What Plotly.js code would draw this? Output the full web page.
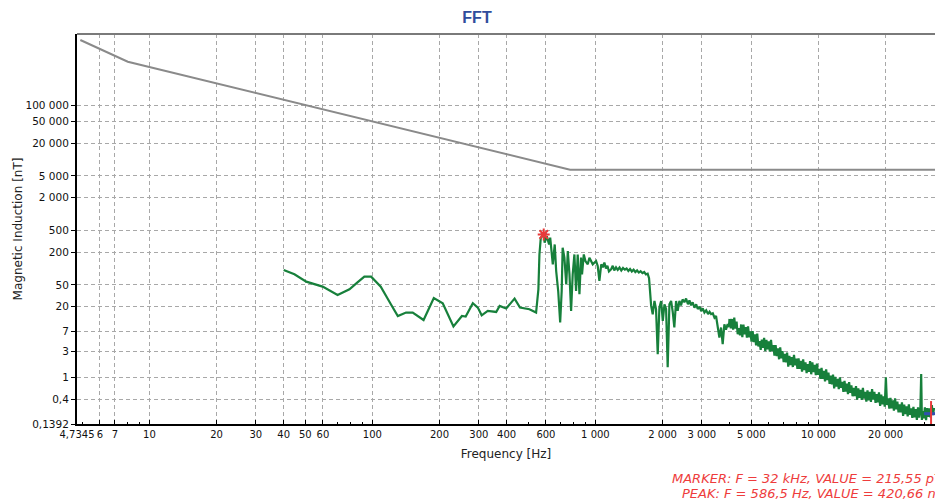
<!DOCTYPE html>
<html>
<head>
<meta charset="utf-8">
<script src="https://cdn.plot.ly/plotly-3.0.1.min.js"></script>
<style>html,body{margin:0;padding:0;background:#fff;}#chart{width:935px;height:500px;}</style>
</head>
<body>
<div id="chart"></div>
<script>
// ---- Data ----
const xTickVals = [4.7345, 6, 7, 10, 20, 30, 40, 50, 60, 100, 200, 300, 400, 600, 1000, 2000, 3000, 5000, 10000, 20000];
const xTickText = ['4,7345', '6', '7', '10', '20', '30', '40', '50', '60', '100', '200', '300', '400', '600', '1 000', '2 000', '3 000', '5 000', '10 000', '20 000'];
const yTickVals = [0.1392, 0.4, 1, 3, 7, 20, 50, 200, 500, 2000, 5000, 20000, 50000, 100000];
const yTickText = ['0,1392', '0,4', '1', '3', '7', '20', '50', '200', '500', '2 000', '5 000', '20 000', '50 000', '100 000'];

// limit curve (gray)
const limitFreq = [4.9, 8, 770, 33500];
const limitValue = [1570000, 625000, 6500, 6500];

// measured FFT spectrum (green)
const fftFreqLow = [40, 44.7, 50.5, 59.8, 69.8, 78.9, 85.7, 92, 98.7, 109, 121, 130, 141.5, 151.6, 169.6, 188.5, 206.7, 230.9, 252, 262, 282, 297, 309, 329, 359, 372, 398, 434, 459, 506, 542, 555, 561, 569];
const fftValueLow = [93.5, 78, 57.3, 46.4, 32.6, 41.4, 55.6, 70.8, 70.8, 46.4, 22, 13.4, 15.5, 15.5, 11.3, 28.7, 23, 8.6, 13.4, 13.1, 23, 19.1, 13.8, 16.6, 15.9, 20.5, 18.4, 28, 19.1, 17.8, 15.5, 41.4, 181, 367];

const fftFreqPeak = [586.5, 592, 605, 620, 627, 644, 657, 667, 681, 695, 706, 713, 726, 740, 752, 765, 778, 791, 805, 819, 833, 848, 862, 871, 887, 902, 924, 940, 973];
const fftValuePeak = [420.66, 297, 392, 276, 367, 119, 276, 89.6, 38.5, 10.2, 38.5, 240, 158, 51, 208, 78, 16.6, 78, 181, 38.5, 181, 33.6, 158, 78, 181, 137, 119, 158, 119];

const fftFreqMid = [1007, 1024, 1042, 1062, 1080, 1097, 1115, 1132, 1150, 1175, 1196, 1215, 1237, 1259, 1283, 1306, 1330, 1355, 1380, 1405, 1430, 1456, 1483, 1510, 1538, 1566, 1595, 1625, 1655, 1685, 1715, 1740, 1760, 1778,
  1807, 1840, 1870, 1903, 1936, 1971, 2005, 2040, 2075, 2109, 2147, 2185, 2222, 2259, 2300, 2339, 2380, 2420, 2460, 2506, 2550, 2600, 2640, 2685, 2730, 2780, 2830, 2876, 2930, 2980, 3030, 3083, 3140, 3200, 3250, 3303, 3360, 3420, 3475, 3533, 3597, 3660, 3722, 3787, 3850, 3918, 3960];
const fftValueMid = [137, 111, 59, 119, 105, 128, 100, 112, 88, 96, 112, 92, 105, 94, 104, 92, 102, 95, 100, 90, 98, 88, 95, 86, 92, 84, 89, 82, 86, 78, 80, 66, 40, 20.5,
  14.4, 25.3, 18, 2.67, 19.1, 25.3, 10.9, 22, 18, 1.54, 22, 25.3, 16, 8.24, 25.3, 16.6, 25.3, 21, 27, 24, 28, 22, 26, 21, 24, 19, 22, 18, 20, 16.5, 18.5, 15.5, 17, 14.5, 16, 14.5, 15, 12.5, 13.4, 8.8, 5.4, 8.24, 4.07, 9.46, 7.5, 9.5, 8.4];

const fftFreqHigh = [4000, 4048, 4096, 4145, 4194, 4244, 4295, 4346, 4398, 4451, 4504, 4558, 4612, 4667, 4722, 4779, 4836, 4894, 4952, 5011,
  5071, 5131, 5192, 5254, 5317, 5381, 5445, 5510, 5575, 5642, 5709, 5777, 5846, 5916, 5987, 6058, 6130, 6203, 6277, 6352,
  6428, 6505, 6582, 6661, 6740, 6821, 6902, 6985, 7068, 7152, 7237, 7324, 7411, 7500, 7589, 7680, 7771, 7864, 7958, 8053,
  8149, 8246, 8344, 8444, 8544, 8647, 8750, 8855, 8960, 9067, 9175, 9285, 9395, 9507, 9620, 9735, 9851, 9969, 10088, 10209,
  10330, 10454, 10578, 10705, 10832, 10962, 11092, 11225, 11358, 11494, 11630, 11769, 11909, 12052, 12195, 12341, 12488, 12638, 12788, 12941,
  13095, 13252, 13409, 13570, 13731, 13895, 14060, 14229, 14398, 14570, 14743, 14920, 15097, 15278, 15460, 15645, 15831, 16021, 16211, 16405,
  16600, 16799, 16998, 17202, 17406, 17615, 17824, 18038, 18252, 18471, 18690, 18914, 19138, 19368, 19598, 19833, 20068, 20309, 20550, 20796,
  21043, 21295, 21548, 21806, 22065, 22330, 22595, 22866, 23137, 23414, 23692, 23976, 24261, 24552, 24843, 25141, 25439, 25745, 26050, 26362,
  26675, 26995, 27315, 27643, 27971, 28306, 28642, 28900, 29114, 29329, 29681, 30033, 30393, 30754, 31123, 31492, 31870, 32248, 32635, 33022];
const fftValueHigh = [11.8, 7.95, 11.8, 7.5, 12.5, 7.85, 10.6, 6.2, 8.05, 5.9, 9.36, 5.5, 9.3, 6.15, 8.4, 5.36, 8.64, 5.44, 7.0, 4.53,
  7.06, 4.43, 6.14, 3.85, 6.34, 3.7, 4.64, 3.19, 4.95, 3.5, 5.33, 3.02, 4.9, 3.28, 4.56, 2.96, 4.86, 3.04, 3.92, 2.52,
  3.9, 2.46, 3.42, 2.15, 3.56, 2.24, 3.05, 1.91, 2.7, 1.89, 2.86, 1.58, 2.48, 1.68, 2.35, 1.55, 2.59, 1.67, 2.2, 1.43,
  2.24, 1.43, 2.0, 1.28, 2.14, 1.36, 1.88, 1.2, 1.75, 1.27, 1.98, 1.14, 1.88, 1.25, 1.7, 1.1, 1.78, 1.11, 1.44, 0.94,
  1.49, 0.94, 1.32, 0.84, 1.4, 0.89, 1.22, 0.76, 1.07, 0.746, 1.12, 0.63, 1.02, 0.68, 0.94, 0.61, 1.0, 0.64, 0.83, 0.54,
  0.86, 0.545, 0.77, 0.49, 0.82, 0.52, 0.71, 0.45, 0.64, 0.454, 0.69, 0.39, 0.63, 0.42, 0.59, 0.385, 0.64, 0.41, 0.54, 0.36,
  0.58, 0.377, 0.54, 0.354, 0.61, 0.39, 0.54, 0.34, 0.49, 0.346, 0.53, 0.3, 0.48, 0.32, 0.45, 0.29, 1.0, 0.31, 0.41, 0.266,
  0.42, 0.27, 0.38, 0.245, 0.41, 0.26, 0.36, 0.227, 0.32, 0.228, 0.347, 0.196, 0.316, 0.212, 0.294, 0.192, 0.32, 0.206, 0.27, 0.18,
  0.287, 0.184, 0.26, 0.166, 0.28, 0.182, 0.256, 1.15, 0.165, 0.24, 0.177, 0.28, 0.163, 0.273, 0.188, 0.27, 0.182, 0.31, 0.204, 0.275];

const peakFreq = [586.5];
const peakValue = [420.66];
const markerFreq = [32000];
const markerValue = [0.21555];

const fftFreq = fftFreqLow.concat(fftFreqPeak, fftFreqMid);
const fftValue = fftValueLow.concat(fftValuePeak, fftValueMid);

const FONT = 'DejaVu Sans, Verdana, sans-serif';
const GREEN = '#17803b';
const RED = '#e83a3a';
const BLUE = '#3050b0';

const traces = [
  { x: limitFreq, y: limitValue, mode: 'lines', line: { color: '#8a8a8a', width: 2 }, hoverinfo: 'skip' },
  { x: fftFreq.concat([fftFreqHigh[0]]), y: fftValue.concat([fftValueHigh[0]]), mode: 'lines', line: { color: GREEN, width: 2.2 }, hoverinfo: 'skip' },
  { x: fftFreqHigh, y: fftValueHigh, mode: 'lines', line: { color: GREEN, width: 2.2 }, hoverinfo: 'skip' },
  { x: peakFreq, y: peakValue, mode: 'markers', marker: { symbol: 'triangle-down', size: 6, color: BLUE }, hoverinfo: 'skip' },
  { x: peakFreq, y: peakValue, mode: 'markers', marker: { symbol: 'asterisk-open', size: 10, color: RED, line: { color: RED, width: 2 } }, hoverinfo: 'skip' },
  { x: markerFreq, y: markerValue, mode: 'markers', marker: { symbol: 'line-ew-open', size: 10, color: BLUE, line: { color: BLUE, width: 3 } }, hoverinfo: 'skip' },
  { x: markerFreq, y: markerValue, mode: 'markers', marker: { symbol: 'line-ns-open', size: 18, color: RED, line: { color: RED, width: 2 } }, hoverinfo: 'skip' }
];

const plotL = 77, plotR = 935, plotT = 34, plotB = 424;
const pw = plotR - plotL, ph = plotB - plotT;

const layout = {
  width: 935, height: 500,
  margin: { l: plotL, r: 935 - plotR, t: plotT, b: 500 - plotB, pad: 0 },
  paper_bgcolor: '#ffffff', plot_bgcolor: '#ffffff',
  showlegend: false, hovermode: false,
  title: {
    text: 'FFT', x: 477 / 935, xref: 'container', xanchor: 'center',
    y: 1 - 17 / 500, yref: 'container', yanchor: 'middle',
    font: { family: 'Liberation Sans, Arial, sans-serif', size: 16, color: '#2f4c9c', weight: 'bold' }
  },
  xaxis: {
    type: 'log', range: [Math.log10(4.7345), Math.log10(33330)],
    tickmode: 'array', tickvals: xTickVals, ticktext: xTickText, tickangle: 0,
    ticks: 'inside', ticklen: 4, tickcolor: '#000', tickwidth: 1,
    showline: true, linecolor: '#000', linewidth: 2,
    showgrid: true, gridcolor: '#a8a8a8', gridwidth: 1, griddash: '4px,3px',
    zeroline: false,
    tickfont: { family: FONT, size: 10, color: '#111' },
    minor: { dtick: 'D1', ticks: 'inside', ticklen: 2, tickcolor: '#000', showgrid: false },
    title: { text: 'Frequency [Hz]', font: { family: FONT, size: 12, color: '#222' }, standoff: 11 }
  },
  yaxis: {
    type: 'log', range: [Math.log10(0.1392), 6.306],
    tickmode: 'array', tickvals: yTickVals, ticktext: yTickText,
    ticks: 'outside', ticklen: 4, tickcolor: '#000', tickwidth: 1,
    showline: true, linecolor: '#000', linewidth: 2,
    showgrid: true, gridcolor: '#a8a8a8', gridwidth: 1, griddash: '4px,3px',
    zeroline: false,
    tickfont: { family: FONT, size: 10.5, color: '#111' },
    title: { text: 'Magnetic Induction [nT]', font: { family: FONT, size: 12, color: '#222' }, standoff: 0 }
  },
  shapes: [
    { type: 'line', xref: 'paper', yref: 'paper', x0: 0, x1: 1, y0: 1, y1: 1, line: { color: '#7a7a7a', width: 2 } }
  ],
  annotations: [
    { xref: 'paper', yref: 'paper', x: (670 - plotL) / pw, y: (plotB - 478) / ph, xanchor: 'left', yanchor: 'middle', showarrow: false,
      text: 'MARKER: F = 32 kHz, VALUE = 215,55 pT', font: { family: FONT, size: 13, color: '#ee3c3c', style: 'italic' } },
    { xref: 'paper', yref: 'paper', x: (680 - plotL) / pw, y: (plotB - 493) / ph, xanchor: 'left', yanchor: 'middle', showarrow: false,
      text: 'PEAK: F = 586,5 Hz, VALUE = 420,66 nT', font: { family: FONT, size: 13, color: '#ee3c3c', style: 'italic' } }
  ]
};

Plotly.newPlot('chart', traces, layout, { staticPlot: true, displayModeBar: false });
</script>
</body>
</html>
